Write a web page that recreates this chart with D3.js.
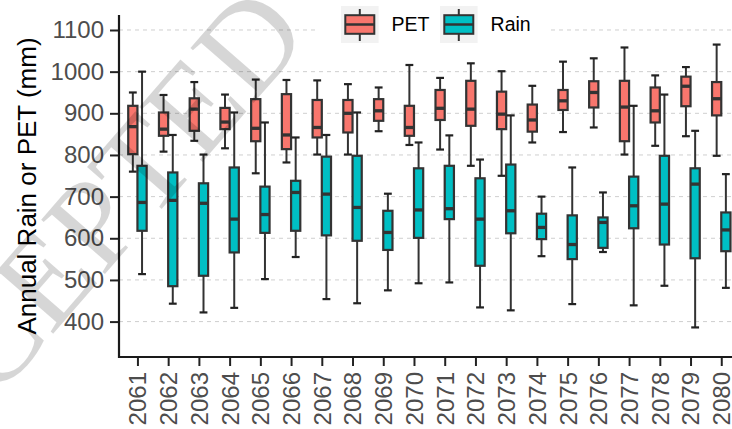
<!DOCTYPE html>
<html>
<head>
<meta charset="utf-8">
<script src="https://cdn.jsdelivr.net/npm/d3@7"></script>
<style>
  html, body { margin: 0; padding: 0; background: #fff; }
  svg { display: block; font-family: "Liberation Sans", Arial, sans-serif; }
</style>
</head>
<body>
<svg id="chart" width="732" height="429"></svg>
<script>
// ---- data ----
const years = ["2061","2062","2063","2064","2065","2066","2067","2068","2069","2070",
               "2071","2072","2073","2074","2075","2076","2077","2078","2079","2080"];
const seriesNames = ["PET", "Rain"];
const seriesColors = ["#F8766D", "#00BFC4"];
// [lower whisker, Q1, median, Q3, upper whisker]
const petStats = [
  [760, 802, 868, 918, 950],
  [808, 846, 862, 902, 944],
  [834, 858, 910, 936, 975],
  [816, 862, 879, 913, 945],
  [756, 833, 864, 934, 981],
  [782, 814, 848, 946, 980],
  [801, 842, 866, 932, 979],
  [801, 854, 900, 932, 970],
  [857, 882, 906, 934, 962],
  [824, 846, 866, 918, 1016],
  [813, 884, 912, 956, 985],
  [774, 870, 910, 978, 1020],
  [750, 862, 898, 952, 1001],
  [830, 856, 884, 921, 966],
  [855, 908, 930, 956, 1024],
  [866, 914, 950, 977, 1032],
  [801, 833, 915, 978, 1058],
  [822, 878, 906, 962, 991],
  [845, 917, 965, 988, 1011],
  [798, 895, 935, 975, 1065]
];
const rainStats = [
  [514, 618, 686, 774, 1000],
  [443, 485, 691, 758, 848],
  [422, 510, 684, 732, 801],
  [433, 566, 646, 770, 902],
  [502, 613, 657, 724, 878],
  [555, 618, 710, 738, 842],
  [454, 607, 706, 796, 848],
  [444, 594, 674, 798, 902],
  [475, 572, 614, 666, 707],
  [492, 601, 668, 768, 830],
  [494, 646, 671, 774, 847],
  [434, 534, 646, 744, 789],
  [427, 612, 666, 777, 895],
  [557, 598, 626, 659, 700],
  [442, 550, 585, 655, 770],
  [567, 577, 638, 650, 710],
  [439, 624, 678, 748, 918],
  [486, 585, 682, 798, 945],
  [386, 552, 730, 768, 858],
  [481, 569, 620, 662, 754]
];
const yTicks = [400, 500, 600, 700, 800, 900, 1000, 1100];
const yTitle = "Annual Rain or PET (mm)";
const watermark = "ACCEPTED";

// ---- layout ----
const svg = d3.select("#chart");
const mLeft = 119, mTop = 15, mBottom = 357, mRight = 739.7;

const x = d3.scalePoint().domain(years).range([mLeft, mRight]).padding(0.6);
const step = x.step();
const dodge = d3.scaleBand().domain(seriesNames).range([-0.3 * step, 0.3 * step]).paddingInner(0);
const boxW = dodge.bandwidth();
const y = d3.scaleLinear().domain([315, 1136]).range([mBottom, mTop]);

// gridlines
svg.append("g").selectAll("line").data(yTicks).join("line")
  .attr("x1", mLeft).attr("x2", 732)
  .attr("y1", d => y(d)).attr("y2", d => y(d))
  .attr("stroke", "#cfcfcf").attr("stroke-width", 1).attr("stroke-dasharray", "4,4");

// boxes
const all = [];
years.forEach((yr, i) => {
  all.push({year: yr, s: 0, v: petStats[i]});
  all.push({year: yr, s: 1, v: rainStats[i]});
});
const stroke = "#333333";
const g = svg.append("g");
const capW = boxW * 0.85;
all.forEach(d => {
  const cx = x(d.year) + dodge(seriesNames[d.s]) + boxW / 2;
  const [lo, q1, md, q3, hi] = d.v;
  const gg = g.append("g");
  gg.append("line").attr("x1", cx).attr("x2", cx).attr("y1", y(hi)).attr("y2", y(q3))
    .attr("stroke", stroke).attr("stroke-width", 2);
  gg.append("line").attr("x1", cx).attr("x2", cx).attr("y1", y(q1)).attr("y2", y(lo))
    .attr("stroke", stroke).attr("stroke-width", 2);
  [hi, lo].forEach(v => gg.append("line")
    .attr("x1", cx - capW / 2).attr("x2", cx + capW / 2)
    .attr("y1", y(v)).attr("y2", y(v))
    .attr("stroke", "#222").attr("stroke-width", 2.2));
  gg.append("rect").attr("x", cx - boxW / 2).attr("y", y(q3))
    .attr("width", boxW).attr("height", y(q1) - y(q3))
    .attr("fill", seriesColors[d.s]).attr("stroke", stroke).attr("stroke-width", 2.2);
  gg.append("line").attr("x1", cx - boxW / 2).attr("x2", cx + boxW / 2)
    .attr("y1", y(md)).attr("y2", y(md))
    .attr("stroke", stroke).attr("stroke-width", 3.3);
});

// axes
const yAxis = svg.append("g").attr("transform", `translate(${mLeft},0)`)
  .call(d3.axisLeft(y).tickValues(yTicks).tickFormat(d3.format("d")).tickSize(9).tickPadding(6));
yAxis.select(".domain").remove();
yAxis.selectAll(".tick line").attr("stroke", "#222").attr("stroke-width", 2);
yAxis.selectAll(".tick text").attr("fill", "#4d4d4d").style("font-size", "24px")
  .style("font-family", "'Liberation Sans', Arial, sans-serif");

const xAxis = svg.append("g").attr("transform", `translate(0,${mBottom})`)
  .call(d3.axisBottom(x).tickSize(9).tickPadding(6));
xAxis.select(".domain").remove();
xAxis.selectAll(".tick line").attr("stroke", "#222").attr("stroke-width", 2);
xAxis.selectAll(".tick text")
  .attr("fill", "#4d4d4d").style("font-size", "24px")
  .style("font-family", "'Liberation Sans', Arial, sans-serif")
  .attr("text-anchor", "end")
  .attr("transform", "translate(0,15) rotate(-90)")
  .attr("x", 0).attr("y", 0).attr("dy", "0.35em");

svg.append("line").attr("x1", mLeft).attr("x2", mLeft).attr("y1", mTop).attr("y2", mBottom + 1)
  .attr("stroke", "#1a1a1a").attr("stroke-width", 2.2);
svg.append("line").attr("x1", mLeft - 1).attr("x2", 732).attr("y1", mBottom).attr("y2", mBottom)
  .attr("stroke", "#1a1a1a").attr("stroke-width", 2.2);

// y title
svg.append("text")
  .attr("transform", `translate(36,${(mTop + mBottom) / 2}) rotate(-90)`)
  .attr("text-anchor", "middle")
  .style("font-size", "26px").attr("fill", "#000")
  .text(yTitle);

// legend
const lg = svg.append("g");
lg.append("rect").attr("x", 317).attr("y", 0).attr("width", 230).attr("height", 47).attr("fill", "#fff");
const legX = [341, 440];
seriesNames.forEach((name, i) => {
  const kx = legX[i], ky = 6, kw = 37.6, kh = 37;
  lg.append("rect").attr("x", kx).attr("y", ky).attr("width", kw).attr("height", kh).attr("fill", "#f2f2f2");
  const cx = kx + kw / 2, cy = ky + kh / 2;
  lg.append("line").attr("x1", cx).attr("x2", cx).attr("y1", ky + 3).attr("y2", ky + kh - 2)
    .attr("stroke", stroke).attr("stroke-width", 2);
  lg.append("rect").attr("x", cx - 14.5).attr("y", cy - 9.3).attr("width", 29).attr("height", 18.6)
    .attr("fill", seriesColors[i]).attr("stroke", stroke).attr("stroke-width", 2);
  lg.append("line").attr("x1", cx - 14.5).attr("x2", cx + 14.5).attr("y1", cy).attr("y2", cy)
    .attr("stroke", stroke).attr("stroke-width", 2.5);
  lg.append("text").attr("x", kx + kw + 13).attr("y", cy).attr("dy", "0.35em")
    .style("font-size", "19.5px").attr("fill", "#000").text(name);
});

// watermark
svg.append("text")
  .attr("transform", "translate(312,36) rotate(-49)")
  .attr("text-anchor", "end")
  .style("font-family", "'Liberation Serif', 'DejaVu Serif', serif")
  .style("font-size", "128px")
  .attr("fill", "#000").attr("fill-opacity", 0.16)
  .text(watermark);
</script>
</body>
</html>
